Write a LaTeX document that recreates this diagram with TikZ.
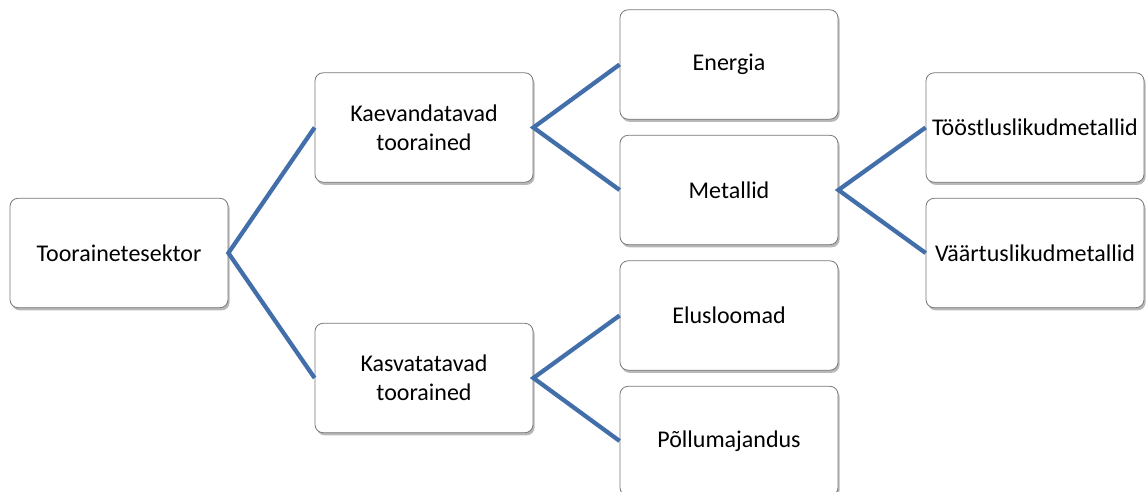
\documentclass[tikz,border=0pt]{standalone}
\usepackage{fontspec}
\setmainfont{Carlito}
\usetikzlibrary{shadows}

\begin{document}
\begin{tikzpicture}[x=0.75pt,y=0.75pt,yscale=-1,xscale=1,
		box/.style={draw={rgb, 255:red, 120; green, 120; blue, 120}, fill=white, line width=0.6pt,
			rounded corners=6pt, minimum width=163.5pt, minimum height=82pt, inner sep=2pt,
			align=center, font=\fontsize{18}{21.5}\selectfont,
			drop shadow={shadow xshift=1.2pt, shadow yshift=-2pt, opacity=0.28, fill=black}},
		link/.style={draw={rgb, 255:red, 66; green, 111; blue, 170}, line width=3.2pt, line join=miter}]
			\useasboundingbox (0,0) rectangle (1148,492);

			% Text Node
			\node [box] (sektor) at (119,253) {Toorainetesektor};
			% Text Node
			\node [box] (kaev) at (424,127.5) {Kaevandatavad\\toorained};
			% Text Node
			\node [box] (kasv) at (424,378) {Kasvatatavad\\toorained};
			% Text Node
			\node [box] (energia) at (729,64.5) {Energia};
			% Text Node
			\node [box] (metallid) at (729,190) {Metallid};
			% Text Node
			\node [box] (elus) at (729,315.5) {Elusloomad};
			% Text Node
			\node [box] (pollu) at (729,441) {Põllumajandus};
			% Text Node
			\node [box] (toost) at (1035,127.5) {Tööstluslikudmetallid};
			% Text Node
			\node [box] (vaart) at (1035,253) {Väärtuslikudmetallid};

			%Straight Lines
			\draw [link] (kaev.west) -- (sektor.east) -- (kasv.west) ;
			%Straight Lines
			\draw [link] (energia.west) -- (kaev.east) -- (metallid.west) ;
			%Straight Lines
			\draw [link] (elus.west) -- (kasv.east) -- (pollu.west) ;
			%Straight Lines
			\draw [link] (toost.west) -- (metallid.east) -- (vaart.west) ;

		\end{tikzpicture}
\end{document}
